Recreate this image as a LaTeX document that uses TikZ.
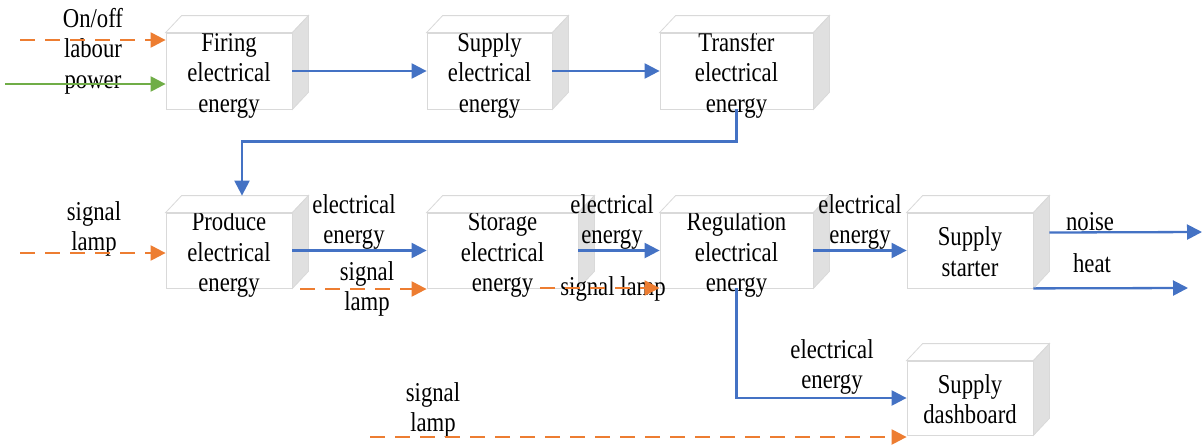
\documentclass[tikz,border=0pt]{standalone}
\usepackage{fontspec}
\setmainfont{Liberation Serif}
\usepackage{graphicx}
\usetikzlibrary{arrows.meta,calc}
\definecolor{eblue}{HTML}{4472C4}
\definecolor{eorange}{HTML}{ED7D31}
\definecolor{egreen}{HTML}{70AD47}
\definecolor{edgegray}{HTML}{D9D9D9}
\definecolor{sidegray}{HTML}{E0E0E0}
\newcommand\tx[1]{\raisebox{-6.8pt}{\scalebox{1}[1.2]{\begin{tabular}{@{}c@{}}#1\end{tabular}}}}
\newcommand\bx[1]{\raisebox{-4pt}{\tx{#1}}}
\tikzset{
  cube/.style={draw=edgegray, fill=white, line width=0.8pt, inner sep=0pt,
    text height=0pt, text depth=0pt, font=\fontsize{22.7}{25.4}\selectfont},
  face/.style={draw=edgegray, line width=0.8pt},
  lbl/.style={inner sep=0pt, text height=0pt, text depth=0pt, font=\fontsize{22.7}{25.4}\selectfont},
  flow/.style={eblue, line width=2.3pt, -{Triangle[length=15pt,width=15pt]}},
  sig/.style={eorange, line width=2.3pt, dash pattern=on 15pt off 10pt, -{Triangle[length=15pt,width=15pt]}},
  pow/.style={egreen, line width=2.3pt, -{Triangle[length=15pt,width=15pt]}},
}
\begin{document}
\begin{tikzpicture}[x=1pt,y=-1pt]
\useasboundingbox (0,0) rectangle (1202,445);
% boxes
\node[cube, minimum width=126pt, minimum height=76pt] (fire) at (229,71) {\bx{Firing\\electrical\\energy}};
\node[cube, minimum width=125pt, minimum height=76pt] (supply) at (489.5,71) {\bx{Supply\\electrical\\energy}};
\node[cube, minimum width=153pt, minimum height=76pt] (transfer) at (736.5,71) {\bx{Transfer\\electrical\\energy}};
\node[cube, minimum width=126pt, minimum height=75pt] (produce) at (229,250.5) {\bx{Produce\\electrical\\energy}};
\node[cube, minimum width=151pt, minimum height=75pt] (storage) at (502.5,250.5) {\bx{Storage\\electrical\\energy}};
\node[cube, minimum width=153pt, minimum height=75pt] (regul) at (736.5,250.5) {\bx{Regulation\\electrical\\energy}};
\node[cube, minimum width=126pt, minimum height=75pt] (starter) at (970,250.5) {\bx{Supply\\starter}};
\node[cube, minimum width=126pt, minimum height=74pt] (dashb) at (970,398) {\bx{Supply\\dashboard}};
\foreach \n in {fire,supply,transfer,produce,storage,regul,starter,dashb} {
  \draw[face, fill=white] (\n.north west) -- ++(16,-17) -- ($(\n.north east)+(16,-17)$) -- (\n.north east) -- cycle;
  \draw[face, fill=sidegray] (\n.north east) -- ++(16,-17) -- ($(\n.south east)+(16,-17)$) -- (\n.south east) -- cycle;
}
% labels
\node[lbl] (l1) at (93,51) {\tx{On/off\\labour\\power}};
\node[lbl] (l2) at (94,229) {\tx{signal\\lamp}};
\node[lbl] (l3) at (354,222) {\tx{electrical\\energy}};
\node[lbl] (l4) at (367,289) {\tx{signal\\lamp}};
\node[lbl] (l5) at (612,222) {\tx{electrical\\energy}};
\node[lbl] (l6) at (613,289) {\tx{signal lamp}};
\node[lbl] (l7) at (860,222) {\tx{electrical\\energy}};
\node[lbl] (l8) at (1090,224) {\tx{noise}};
\node[lbl] (l9) at (1092,266) {\tx{heat}};
\node[lbl] (l10) at (832,367) {\tx{electrical\\energy}};
\node[lbl] (l11) at (433,410) {\tx{signal\\lamp}};
% connectors
\coordinate (in1) at (20,40);
\coordinate (in2) at (5,84);
\coordinate (in3) at (20,253);
\coordinate (s1) at (300,289);
\coordinate (s2) at (540,288);
\coordinate (b1) at (370,437);
\coordinate (noiseout) at (1202,232);
\coordinate (heatout) at (1188,288);
\draw[sig] (in1) -- (in1 -| fire.west);
\draw[pow] (in2) -- (in2 -| fire.west);
\draw[flow] (fire.east) -- (supply.west);
\draw[flow] (supply.east) -- (transfer.west);
\draw[flow] (transfer.south) -- ++(0,32) -| ($(produce.north)+(13,-17)$);
\draw[sig] (in3) -- (in3 -| produce.west);
\draw[flow] (produce.east) -- (storage.west);
\draw[sig] (s1) -- (s1 -| storage.west);
\draw[flow] (storage.east) -- (regul.west);
\draw[sig] (s2) -- (s2 -| regul.west);
\draw[flow] (regul.east) -- (starter.west);
\draw[flow] ($(starter.east)+(16,-18)$) -- (noiseout);
\draw[flow] (starter.south east) -- (heatout);
\draw[flow] (regul.south) |- (dashb.west);
\draw[sig] (b1) -- (b1 -| dashb.west);
\end{tikzpicture}
\end{document}
